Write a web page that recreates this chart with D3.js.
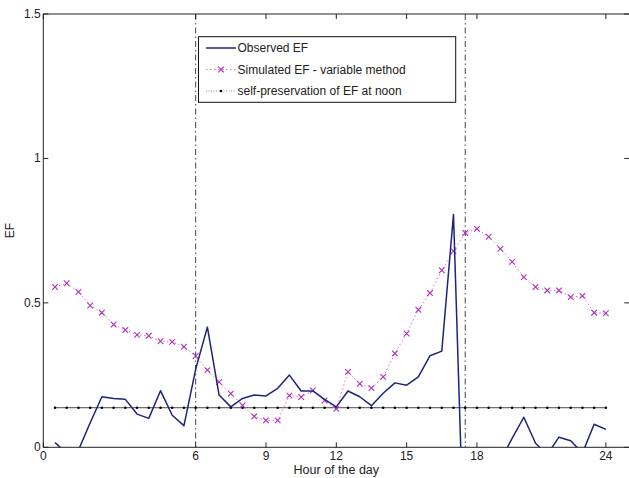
<!DOCTYPE html>
<html><head><meta charset="utf-8">
<script src="https://cdn.jsdelivr.net/npm/d3@7"></script>
<style>html,body{margin:0;padding:0;background:#fff;}svg{display:block;font-family:"Liberation Sans",Arial,Helvetica,sans-serif;}</style>
</head><body>
<script>
// half-hourly sample index (1 = 00:00 ... 48 = 23:30)
const sampleIndex = [1,2,3,4,5,6,7,8,9,10,11,12,13,14,15,16,17,18,19,20,21,22,23,24,25,26,27,28,29,30,31,32,33,34,35,36,37,38,39,40,41,42,43,44,45,46,47,48];
const observedEF = [0.016,-0.02,-0.01,0.085,0.175,0.169,0.166,0.115,0.100,0.196,0.111,0.075,0.27,0.416,0.181,0.140,0.169,0.181,0.178,0.204,0.250,0.195,0.195,0.166,0.140,0.195,0.175,0.144,0.187,0.223,0.215,0.244,0.317,0.333,0.806,-0.5,-0.4,-0.3,-0.047,0.031,0.104,0.014,-0.025,0.035,0.023,-0.02,0.080,0.062];
const simulatedEF = [0.555,0.568,0.538,0.491,0.466,0.425,0.406,0.389,0.386,0.367,0.365,0.348,0.316,0.267,0.226,0.186,0.145,0.107,0.093,0.093,0.179,0.174,0.197,0.162,0.133,0.261,0.220,0.205,0.244,0.325,0.394,0.476,0.534,0.613,0.679,0.742,0.756,0.729,0.687,0.642,0.589,0.555,0.543,0.543,0.520,0.524,0.466,0.464];
const noonEF = 0.137;
const xTickPos = [0,13,19,25,31,37,48];
const xTickLabels = ["0","6","9","12","15","18","24"];
const yTicks = [0,0.5,1,1.5];
const yTickLabels = ["0","0.5","1","1.5"];
const dayBounds = [13,36];
const legendLabels = ["Observed EF","Simulated EF - variable method","self-preservation of EF at noon"];

const W = 629, H = 478;
const svg = d3.select("body").append("svg").attr("width", W).attr("height", H);
const x = d3.scaleLinear().domain([0,50]).range([43.3, 629.3]);
const y = d3.scaleLinear().domain([0,1.5]).range([447.3, 14]);
const x0 = x.range()[0], x1 = x.range()[1], yb = y.range()[0], yt = y.range()[1];
const xr = x1 + 1; // right border sits just outside the picture

svg.append("defs").append("clipPath").attr("id","clip")
  .append("rect").attr("x",x0).attr("y",yt).attr("width",x1-x0).attr("height",yb-yt);

const plot = svg.append("g").attr("clip-path","url(#clip)");

// vertical day boundaries
plot.selectAll("line.vb").data(dayBounds).join("line")
  .attr("x1",d=>x(d)).attr("x2",d=>x(d)).attr("y1",yt).attr("y2",yb)
  .attr("stroke","#444").attr("stroke-width",1).attr("stroke-dasharray","6,3,1.5,3");

// self-preservation line
plot.append("line").attr("x1",x(sampleIndex[0])).attr("x2",x(sampleIndex[sampleIndex.length-1]))
  .attr("y1",y(noonEF)).attr("y2",y(noonEF)).attr("stroke","#333").attr("stroke-width",0.9);
plot.selectAll("circle.sp").data(sampleIndex).join("circle")
  .attr("cx",d=>x(d)).attr("cy",y(noonEF)).attr("r",1.3).attr("fill","#000");

// simulated
const simData = sampleIndex.map((d,i)=>[d,simulatedEF[i]]);
plot.append("path").datum(simData)
  .attr("d", d3.line().x(d=>x(d[0])).y(d=>y(d[1])))
  .attr("fill","none").attr("stroke","#e070e0").attr("stroke-width",1).attr("stroke-dasharray","1.5,2.5");
const ms = 2.8;
const mk = plot.selectAll("g.mk").data(simData).join("g")
  .attr("transform",d=>`translate(${x(d[0])},${y(d[1])})`);
mk.append("path").attr("d",`M${-ms},${-ms}L${ms},${ms}M${-ms},${ms}L${ms},${-ms}`)
  .attr("stroke","#b030b8").attr("stroke-width",1.1);

// observed
const obsData = sampleIndex.map((d,i)=>[d,observedEF[i]]);
plot.append("path").datum(obsData)
  .attr("d", d3.line().x(d=>x(d[0])).y(d=>y(d[1])))
  .attr("fill","none").attr("stroke","#1c237e").attr("stroke-width",1.5).attr("stroke-linejoin","round");

// axes box
const ax = svg.append("g").attr("stroke","#222").attr("stroke-width",1).attr("fill","none");
ax.append("line").attr("x1",x0).attr("x2",xr).attr("y1",yb).attr("y2",yb);
ax.append("line").attr("x1",x0).attr("x2",xr).attr("y1",yt).attr("y2",yt);
ax.append("line").attr("x1",x0).attr("x2",x0).attr("y1",yt).attr("y2",yb);
ax.append("line").attr("x1",xr).attr("x2",xr).attr("y1",yt).attr("y2",yb);

const tl = 5;
xTickPos.forEach(t=>{
  ax.append("line").attr("x1",x(t)).attr("x2",x(t)).attr("y1",yb).attr("y2",yb-tl);
  ax.append("line").attr("x1",x(t)).attr("x2",x(t)).attr("y1",yt).attr("y2",yt+tl);
});
yTicks.forEach(t=>{
  ax.append("line").attr("x1",x0).attr("x2",x0+tl).attr("y1",y(t)).attr("y2",y(t));
  ax.append("line").attr("x1",xr).attr("x2",xr-tl-1).attr("y1",y(t)).attr("y2",y(t));
});

const txt = svg.append("g").attr("fill","#222").attr("font-size",12);
txt.selectAll("text.xt").data(xTickPos).join("text")
  .attr("x",d=>x(d)).attr("y",yb+13).attr("text-anchor","middle").text((d,i)=>xTickLabels[i]);
txt.selectAll("text.yt").data(yTicks).join("text")
  .attr("x",x0-2.5).attr("y",d=>y(d)+4).attr("text-anchor","end").text((d,i)=>yTickLabels[i]);
txt.append("text").attr("x",(x0+x1)/2).attr("y",474).attr("text-anchor","middle").attr("font-size",12.5).text("Hour of the day");
txt.append("text").attr("transform",`translate(14,${(yt+yb)/2}) rotate(-90)`).attr("text-anchor","middle").attr("font-size",12).text("EF");

// legend
const lg = svg.append("g");
lg.append("rect").attr("x",198.5).attr("y",36.7).attr("width",257.2).attr("height",65.6)
  .attr("fill","#fff").attr("stroke","#111").attr("stroke-width",1);
const rowY = [48, 69.5, 91];
const lx0 = 206, lx1 = 236, lm = 221;
lg.append("line").attr("x1",lx0).attr("x2",lx1).attr("y1",rowY[0]).attr("y2",rowY[0]).attr("stroke","#1c237e").attr("stroke-width",1.5);
lg.append("line").attr("x1",lx0).attr("x2",lx1).attr("y1",rowY[1]).attr("y2",rowY[1]).attr("stroke","#e070e0").attr("stroke-width",1).attr("stroke-dasharray","1.5,2.5");
lg.append("path").attr("d",`M${lm-ms},${rowY[1]-ms}L${lm+ms},${rowY[1]+ms}M${lm-ms},${rowY[1]+ms}L${lm+ms},${rowY[1]-ms}`).attr("stroke","#b030b8").attr("stroke-width",1.1);
lg.append("line").attr("x1",lx0).attr("x2",lx1).attr("y1",rowY[2]).attr("y2",rowY[2]).attr("stroke","#777").attr("stroke-width",0.8).attr("stroke-dasharray","1,1.5");
lg.append("circle").attr("cx",lm).attr("cy",rowY[2]).attr("r",1.3).attr("fill","#000");
lg.selectAll("text").data(legendLabels).join("text")
  .attr("x",237.5).attr("y",(d,i)=>rowY[i]+4.3).attr("font-size",12).attr("fill","#222").text(d=>d);
</script>
</body></html>
